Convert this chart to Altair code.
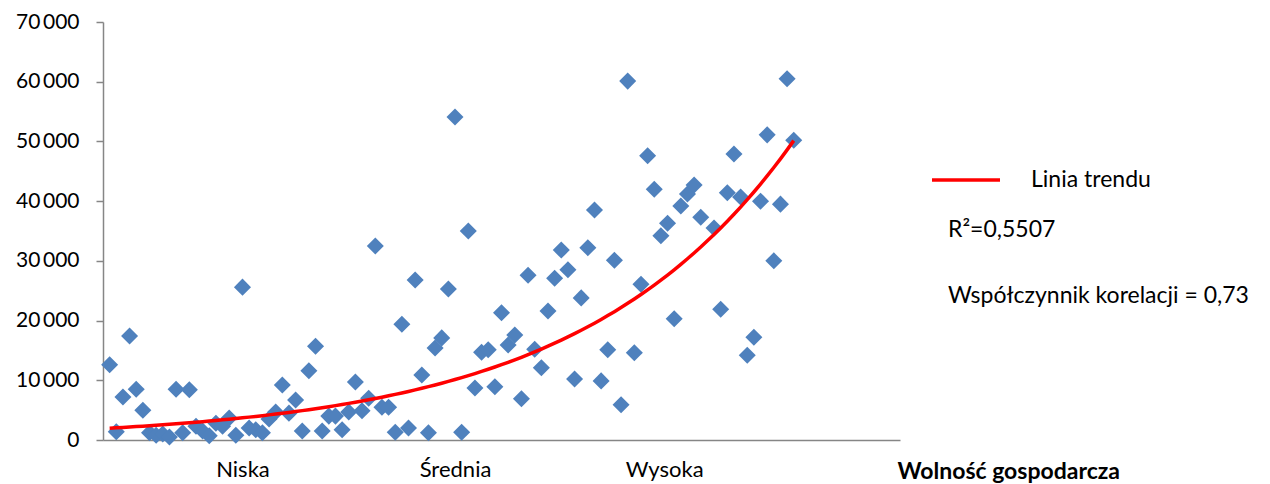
import altair as alt
import pandas as pd

# rank position of each country (slot 91 empty) and GDP per capita values
ranks = list(range(1, 91)) + list(range(92, 105))
values = [
    12600, 1400, 7200, 17400, 8500, 5000, 1200, 800, 1000, 500,
    8500, 1200, 8400, 2300, 1500, 700, 2800, 2300, 3700, 800,
    25600, 2000, 1700, 1200, 3500, 4700, 9200, 4500, 6700, 1500,
    11600, 15700, 1500, 4000, 4000, 1700, 4700, 9700, 4900, 7000,
    32500, 5500, 5500, 1300, 19400, 2000, 26800, 10900, 1200, 15400,
    17100, 25300, 54100, 1300, 35000, 8700, 14700, 15100, 8900, 21300,
    15900, 17600, 6900, 27600, 15200, 12100, 21600, 27100, 31800, 28500,
    10200, 23800, 32200, 38500, 9900, 15100, 30100, 5900, 60100, 14600,
    26100, 47600, 42000, 34200, 36300, 20300, 39200, 41200, 42700, 37300,
    35500, 21900, 41400, 47900, 40700, 14200, 17200, 40000, 51100, 30000,
    39500, 60500, 50200,
]

category_positions = [21, 53, 84.5]
category_labels = ["Niska", "Średnia", "Wysoka"]
x_title = "Wolność gospodarcza"
legend_label = "Linia trendu"
annotations = ["R²=0,5507", "Współczynnik korelacji = 0,73"]

FONT = "Lato"
AXIS_GRAY = "#868686"

df = pd.DataFrame({"x": ranks, "y": values})

label_expr = " : ".join(
    f"datum.value == {p} ? '{l}'" for p, l in zip(category_positions, category_labels)
) + " : ''"

x_enc = alt.X(
    "x:Q",
    scale=alt.Scale(domain=[0, 120], nice=False, zero=False),
    axis=alt.Axis(
        values=category_positions,
        labelExpr=label_expr,
        ticks=False,
        grid=False,
        domainColor=AXIS_GRAY,
        domainWidth=1.5,
        labelFont=FONT,
        labelFontSize=22,
        labelColor="#000000",
        labelPadding=19,
        labelFlush=False,
        title=x_title,
        titleFont=FONT,
        titleFontSize=23,
        titleFontWeight="bold",
        titleColor="#000000",
        titleX=794,
        titleY=38,
        titleAlign="left",
        titleBaseline="alphabetic",
        titleAnchor="start",
    ),
)

y_axis = alt.Axis(
    values=list(range(0, 70001, 10000)),
    labelExpr="replace(format(datum.value, ','), ',', '\u2009')",
    grid=False,
    tickSize=7,
    tickColor=AXIS_GRAY,
    tickWidth=1.5,
    domainColor=AXIS_GRAY,
    domainWidth=1.5,
    labelFont=FONT,
    labelFontSize=21,
    labelColor="#000000",
    labelPadding=17,
    title=None,
)

points = alt.Chart(df).mark_point(
    shape="diamond", filled=True, size=290, color="#4F81BD", opacity=1
).encode(
    x=x_enc,
    y=alt.Y("y:Q", scale=alt.Scale(domain=[0, 70000], nice=False), axis=y_axis),
)

# Excel-style exponential trend: least squares on ln(y)
trend = (
    alt.Chart(df)
    .transform_calculate(ly="log(datum.y)", xly="datum.x * log(datum.y)", xx="datum.x * datum.x")
    .transform_joinaggregate(mx="mean(x)", mly="mean(ly)", mxly="mean(xly)", mxx="mean(xx)")
    .transform_calculate(b="(datum.mxly - datum.mx * datum.mly) / (datum.mxx - datum.mx * datum.mx)")
    .transform_calculate(yt="exp(datum.mly + datum.b * (datum.x - datum.mx))", series=f"'{legend_label}'")
    .mark_line(strokeWidth=3.5)
    .encode(
        x="x:Q",
        y="yt:Q",
        color=alt.Color(
            "series:N",
            scale=alt.Scale(domain=[legend_label], range=["#FF0000"]),
            legend=alt.Legend(
                title=None,
                orient="none",
                legendX=827,
                legendY=122,
                symbolType="stroke",
                symbolSize=4624,
                symbolStrokeWidth=3.5,
                labelFont=FONT,
                labelFontSize=23,
                labelColor="#000000",
                labelOffset=29,
                padding=0,
            ),
        ),
    )
)

ann_df = pd.DataFrame({"t": annotations, "row": [0, 1]})
ann1 = alt.Chart(ann_df).transform_filter("datum.row == 0").mark_text(
    align="left", baseline="middle", font=FONT, fontSize=23, color="#000000"
).encode(x=alt.value(845), y=alt.value(208), text="t:N")
ann2 = alt.Chart(ann_df).transform_filter("datum.row == 1").mark_text(
    align="left", baseline="middle", font=FONT, fontSize=23, color="#000000"
).encode(x=alt.value(845), y=alt.value(274), text="t:N")

chart = (
    alt.layer(points, trend, ann1, ann2)
    .properties(
        width=797,
        height=418,
        padding={"left": 95, "top": 14, "right": 362, "bottom": 44},
        autosize=alt.AutoSizeParams(type="none"),
    )
    .configure(background="#FFFFFF")
    .configure_view(stroke=None)
)

chart.save("out.html", embed_options={"renderer": "svg", "actions": False})
